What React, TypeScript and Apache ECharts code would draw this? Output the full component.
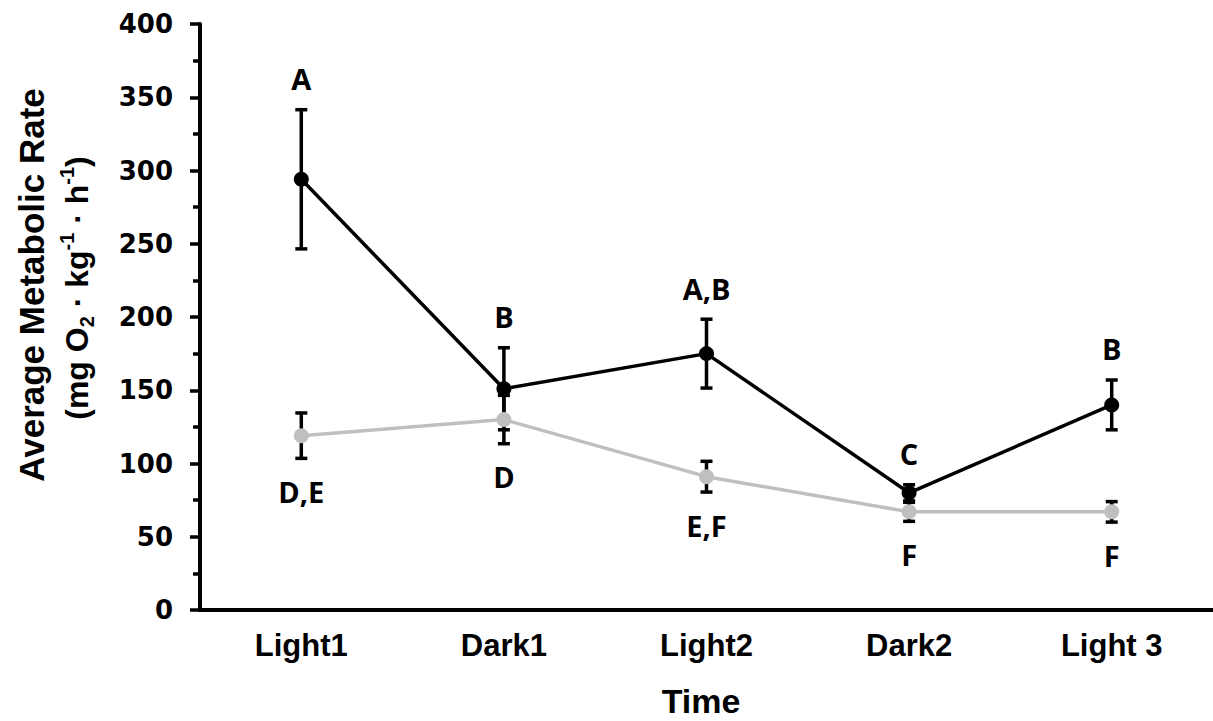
import React, { useEffect, useRef } from 'react';
import * as echarts from 'echarts';

// Sampling periods along the x axis
const categories = ['Light1', 'Dark1', 'Light2', 'Dark2', 'Light 3'];

// Upper (black) group: means, error half-widths and significance letters
const blackMeans = [294, 151, 175, 80, 140];
const blackErrors = [47.5, 28, 23.5, 5.5, 17];
const blackLetters = ['A', 'B', 'A,B', 'C', 'B'];

// Lower (grey) group
const grayMeans = [119, 130, 91, 67, 67];
const grayErrors = [15.5, 16.5, 10.5, 6.5, 7];
const grayLetters = ['D,E', 'D', 'E,F', 'F', 'F'];

// Value axis range
const yMin = 0;
const yMax = 400;
const yStep = 50;

const BLACK = '#000000';
const GRAY = '#bfbfbf';
const ARIAL = '"Liberation Sans", Arial, sans-serif';

function errorBars(
  means: number[],
  errors: number[],
  letters: string[],
  above: boolean,
  z: number
) {
  const data = means.map((m, i) => [i, m - errors[i], m + errors[i]]);
  return {
    type: 'custom',
    z,
    silent: true,
    clip: false,
    data,
    encode: { x: 0, y: [1, 2] },
    renderItem: (params: any, api: any) => {
      const low = api.coord([api.value(0), api.value(1)]);
      const high = api.coord([api.value(0), api.value(2)]);
      const cap = 6;
      const stroke = { stroke: BLACK, lineWidth: 3.5 };
      const letter = letters[params.dataIndex];
      const ly = above ? high[1] - 31 : low[1] + 33;
      return {
        type: 'group',
        children: [
          {
            type: 'line',
            shape: { x1: low[0], y1: low[1], x2: high[0], y2: high[1] },
            style: stroke,
          },
          {
            type: 'line',
            shape: { x1: low[0] - cap, y1: low[1], x2: low[0] + cap, y2: low[1] },
            style: stroke,
          },
          {
            type: 'line',
            shape: { x1: high[0] - cap, y1: high[1], x2: high[0] + cap, y2: high[1] },
            style: stroke,
          },
          {
            type: 'text',
            x: high[0],
            y: ly,
            style: {
              text: letter,
              fill: BLACK,
              fontFamily: '"Open Sans", sans-serif',
              fontWeight: 'bold',
              fontSize: 29,
              align: 'center',
              verticalAlign: 'middle',
            },
          },
        ],
      };
    },
  };
}

function lineSeries(values: number[], color: string, z: number) {
  return {
    type: 'line',
    z,
    data: values,
    symbol: 'circle',
    symbolSize: 15,
    itemStyle: { color },
    lineStyle: { color, width: 3.5 },
    silent: true,
  };
}

export default function App() {
  const ref = useRef<HTMLDivElement>(null);

  useEffect(() => {
    if (!ref.current) return;
    const chart = echarts.init(ref.current, undefined, { renderer: 'svg' });
    const richBase = { fill: BLACK, fontFamily: ARIAL, fontWeight: 'bold' };
    chart.setOption({
      animation: false,
      backgroundColor: '#ffffff',
      grid: { left: 200, right: -3, top: 24, bottom: 111, containLabel: false },
      xAxis: {
        type: 'category',
        data: categories,
        boundaryGap: true,
        axisLine: { lineStyle: { color: BLACK, width: 4 } },
        axisTick: {
          alignWithLabel: true,
          inside: true,
          length: 8,
          lineStyle: { color: BLACK, width: 3.5 },
        },
        axisLabel: {
          margin: 20,
          color: BLACK,
          fontFamily: ARIAL,
          fontWeight: 'bold',
          fontSize: 31,
        },
        splitLine: { show: false },
      },
      yAxis: {
        type: 'value',
        min: yMin,
        max: yMax,
        interval: yStep,
        axisLine: { show: true, lineStyle: { color: BLACK, width: 4 } },
        axisTick: { show: true, length: 10, lineStyle: { color: BLACK, width: 3.5 } },
        minorTick: { show: true, splitNumber: 2, length: 7, lineStyle: { color: BLACK, width: 3.5 } },
        axisLabel: {
          margin: 27,
          color: BLACK,
          fontFamily: '"DejaVu Sans", sans-serif',
          fontWeight: 'bold',
          fontSize: 26,
        },
        splitLine: { show: false },
        minorSplitLine: { show: false },
      },
      graphic: [
        {
          type: 'text',
          x: 31,
          y: 285,
          rotation: Math.PI / 2,
          style: {
            text: 'Average Metabolic Rate',
            fill: BLACK,
            fontFamily: ARIAL,
            fontWeight: 'bold',
            fontSize: 35,
            align: 'center',
            verticalAlign: 'middle',
          },
        },
        {
          type: 'text',
          x: 77,
          y: 288,
          rotation: Math.PI / 2,
          style: {
            text: '{n|(mg O}{sub|2}{n| · kg}{sup|-1}{n| · h}{sup|-1}{n|)}',
            align: 'center',
            verticalAlign: 'middle',
            rich: {
              n: { ...richBase, fontSize: 32, lineHeight: 40, verticalAlign: 'middle' },
              sub: { ...richBase, fontSize: 20, lineHeight: 20, verticalAlign: 'bottom' },
              sup: { ...richBase, fontSize: 20, lineHeight: 20, verticalAlign: 'top' },
            },
          },
        },
        {
          type: 'text',
          x: 701,
          y: 701,
          style: {
            text: 'Time',
            fill: BLACK,
            fontFamily: ARIAL,
            fontWeight: 'bold',
            fontSize: 34,
            align: 'center',
            verticalAlign: 'middle',
          },
        },
      ],
      series: [
        errorBars(blackMeans, blackErrors, blackLetters, true, 2),
        lineSeries(blackMeans, BLACK, 3),
        errorBars(grayMeans, grayErrors, grayLetters, false, 4),
        lineSeries(grayMeans, GRAY, 5),
      ],
    });
    return () => chart.dispose();
  }, []);

  return (
    <div
      ref={ref}
      style={{ position: 'absolute', left: 0, top: 0, width: 1213, height: 721 }}
    />
  );
}
